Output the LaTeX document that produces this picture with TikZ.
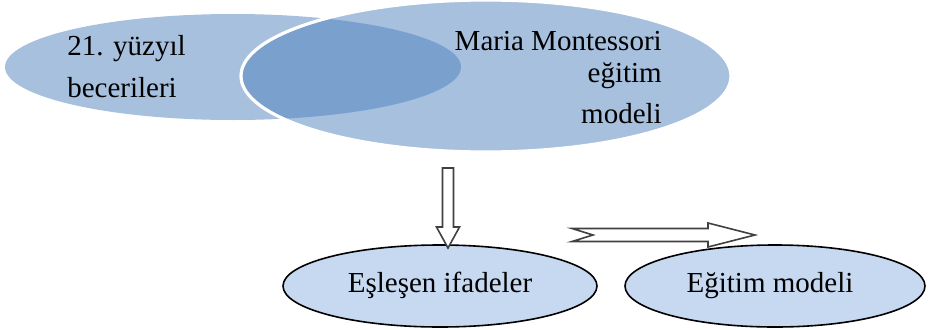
\documentclass[tikz,border=0pt]{standalone}
\usepackage{fontspec}
\setmainfont{Liberation Serif}
\usetikzlibrary{shapes.geometric}
\definecolor{vennblue}{RGB}{79,129,189}
\definecolor{lightfill}{RGB}{198,217,241}
\definecolor{arrowgray}{RGB}{64,64,64}
\begin{document}
\begin{tikzpicture}[x=0.75pt,y=-0.75pt,
  venn/.style={ellipse, fill=vennblue, fill opacity=0.5, inner sep=0pt},
  result/.style={ellipse, draw=black, line width=1.2pt, fill=lightfill, inner sep=0pt,
    minimum height=61.5pt, text height=13pt, text depth=4pt,
    font=\fontsize{21.75}{26}\selectfont},
  lbl/.style={font=\fontsize{21.75}{26}\selectfont, inner sep=0pt, text=black},
  blockarrow/.style={draw=arrowgray, fill=white, line width=1.2pt, line join=miter}]
\useasboundingbox (0,0) rectangle (929,329);
% Venn ellipses
\node[venn, minimum width=342pt, minimum height=79.5pt] (skills) at (233,67) {};
\node[venn, draw=white, draw opacity=1, line width=2.4pt,
      minimum width=367.5pt, minimum height=114pt] (montessori) at (486,76) {};
% Venn texts
\node[lbl, anchor=base west] (t1) at (67,55) {21. yüzyıl};
\node[lbl, anchor=base west] (t2) at (67,97) {becerileri};
\node[lbl, anchor=base east] (m1) at (662,50) {Maria Montessori};
\node[lbl, anchor=base east] (m2) at (662,82) {eğitim};
\node[lbl, anchor=base east] (m3) at (662,123) {modeli};
% result ellipses
\node[result, minimum width=235.5pt] (match) at (440,286) {Eşleşen ifadeler};
\node[result, minimum width=225pt] (model) at (775,286) {Eğitim modeli\hspace*{7.5pt}};
% block arrows
\draw[blockarrow] (442.5,168) -- (453.5,168) -- (453.5,227) -- (459.5,227)
  -- (448,248) -- (436.5,227) -- (442.5,227) -- cycle;
\draw[blockarrow] (572,228.5) -- (708,228.5) -- (708,223) -- (755,235)
  -- (708,247) -- (708,241.5) -- (572,241.5) -- (593,235) -- cycle;
\end{tikzpicture}
\end{document}
